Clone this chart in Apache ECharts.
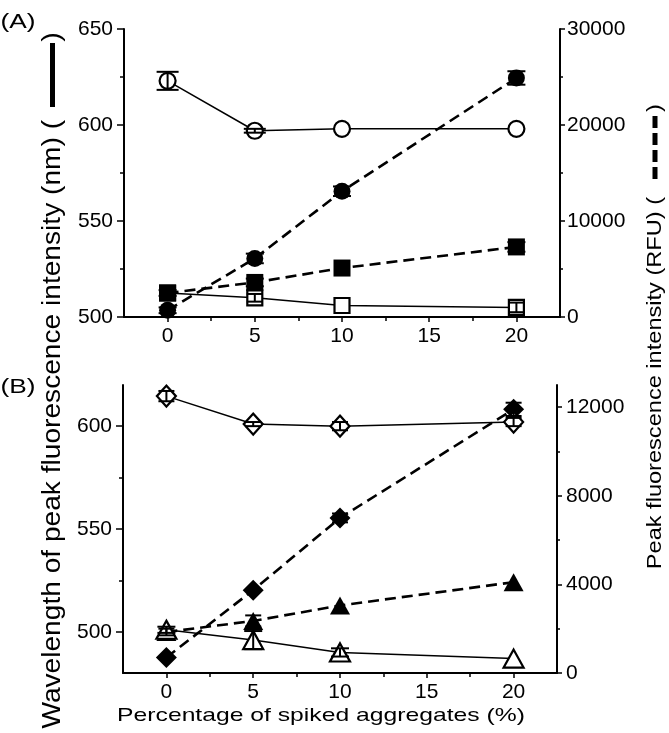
<!DOCTYPE html>
<html>
<head>
<meta charset="utf-8">
<script src="https://cdn.jsdelivr.net/npm/echarts@6/dist/echarts.min.js"></script>
<style>
html,body{margin:0;padding:0;background:#fff;}
#chart{width:669px;height:733px;}
</style>
</head>
<body>
<div id="chart"></div>
<script>
// ---------- data ----------
const xValues = [0, 5, 10, 20];

// Panel A
const aOpenCircleNm = [623, 597, 598, 598];
const aOpenCircleErr = [4.7, 1, 0, 0];
const aOpenSquareNm = [512.5, 510, 506, 505];
const aOpenSquareErr = [1.5, 2, 0, 2.5];
const aFilledCircleRfu = [700, 6100, 13100, 24900];
const aFilledCircleErr = [300, 500, 500, 700];
const aFilledSquareRfu = [2500, 3600, 5100, 7300];
const aFilledSquareErr = [300, 400, 0, 500];

// Panel B
const bOpenDiamondNm = [614.6, 601, 600, 602];
const bOpenDiamondErr = [2.5, 1, 2, 2];
const bOpenTriangleNm = [501, 496, 490, 487];
const bOpenTriangleErr = [1.5, 4.4, 2, 0];
const bFilledDiamondRfu = [700, 3740, 7000, 11900];
const bFilledDiamondErr = [0, 0, 200, 300];
const bFilledTriangleRfu = [1850, 2350, 3050, 4100];
const bFilledTriangleErr = [150, 250, 0, 0];

// Tick values
const xMajorTicks = [0, 5, 10, 15, 20];
const xMinorTicks = [2.5, 7.5, 12.5, 17.5];
const aLeftMajor = [500, 550, 600, 650];
const aLeftMinor = [525, 575, 625];
const aRightMajor = [0, 10000, 20000, 30000];
const aRightMinor = [5000, 15000, 25000];
const bLeftMajor = [500, 550, 600];
const bLeftMinor = [525, 575];
const bRightMajor = [0, 4000, 8000, 12000];
const bRightMinor = [2000, 6000, 10000];

// ---------- chart ----------
const FF = '"Liberation Sans", Arial, Helvetica, sans-serif';
const chart = echarts.init(document.getElementById('chart'), null, {renderer: 'canvas'});
const plain = v => String(v);

function xAxisPair(gridIndex) {
  return [
    {
      type: 'value', gridIndex, position: 'bottom', min: -2.5, max: 22.5,
      axisLine: {show: true, onZero: false, lineStyle: {color: '#000', width: 2}},
      axisTick: {show: true, inside: false, length: 5, customValues: xMajorTicks, lineStyle: {color: '#000', width: 1.5}},
      axisLabel: {show: true, customValues: xMajorTicks, formatter: plain, fontSize: 21, fontFamily: FF, color: '#000', margin: 9},
      splitLine: {show: false}
    },
    {
      type: 'value', gridIndex, position: 'bottom', min: -2.5, max: 22.5,
      axisLine: {show: false, onZero: false},
      axisTick: {show: true, inside: false, length: 4, customValues: xMinorTicks, lineStyle: {color: '#000', width: 1.5}},
      axisLabel: {show: false},
      splitLine: {show: false}
    }
  ];
}

function yAxisPair(gridIndex, position, min, max, major, minor, majorLen, minorLen, margin) {
  return [
    {
      type: 'value', gridIndex, position, min, max,
      axisLine: {show: true, onZero: false, lineStyle: {color: '#000', width: 2}},
      axisTick: {show: true, inside: false, length: majorLen, customValues: major, lineStyle: {color: '#000', width: 1.5}},
      axisLabel: {show: true, customValues: major, formatter: plain, fontSize: 21, fontFamily: FF, color: '#000', margin},
      splitLine: {show: false}
    },
    {
      type: 'value', gridIndex, position, min, max,
      axisLine: {show: false, onZero: false},
      axisTick: {show: true, inside: false, length: minorLen, customValues: minor, lineStyle: {color: '#000', width: 1.5}},
      axisLabel: {show: false},
      splitLine: {show: false}
    }
  ];
}

const xAxes = [...xAxisPair(0), ...xAxisPair(1)];
const yAxes = [
  ...yAxisPair(0, 'left', 500, 650, aLeftMajor, aLeftMinor, 7, 4, 11),   // 0,1
  ...yAxisPair(0, 'right', 0, 30000, aRightMajor, aRightMinor, 5, 3, 7), // 2,3
  ...yAxisPair(1, 'left', 480, 620, bLeftMajor, bLeftMinor, 7, 4, 11),   // 4,5
  ...yAxisPair(1, 'right', 0, 13000, bRightMajor, bRightMinor, 5, 3, 9)  // 6,7
];

function lineSeries(ys, xAxisIndex, yAxisIndex, symbol, size, filled, dashed, z) {
  return {
    type: 'line', xAxisIndex, yAxisIndex, z,
    data: xValues.map((x, i) => [x, ys[i]]),
    symbol, symbolSize: size, showSymbol: true, clip: false,
    itemStyle: {color: filled ? '#000' : '#fff', borderColor: '#000', borderWidth: filled ? 0 : 2.2},
    lineStyle: {color: '#000', width: dashed ? 2.6 : 1.5, type: dashed ? [11, 6] : 'solid'},
    emphasis: {disabled: true},
    animation: false
  };
}

function errSeries(ys, errs, xAxisIndex, yAxisIndex, cap, z) {
  const data = xValues.map((x, i) => [x, ys[i], errs[i]]).filter(d => d[2] > 0);
  return {
    type: 'custom', xAxisIndex, yAxisIndex, z, clip: false,
    data, encode: {x: 0, y: 1},
    animation: false,
    renderItem(params, api) {
      const x = api.value(0), y = api.value(1), e = api.value(2);
      const p1 = api.coord([x, y - e]);
      const p2 = api.coord([x, y + e]);
      const st = {stroke: '#000', lineWidth: 2};
      return {
        type: 'group',
        children: [
          {type: 'line', shape: {x1: p1[0], y1: p1[1], x2: p2[0], y2: p2[1]}, style: st},
          {type: 'line', shape: {x1: p1[0] - cap / 2, y1: p1[1], x2: p1[0] + cap / 2, y2: p1[1]}, style: st},
          {type: 'line', shape: {x1: p2[0] - cap / 2, y1: p2[1], x2: p2[0] + cap / 2, y2: p2[1]}, style: st}
        ]
      };
    }
  };
}

const series = [
  // Panel A
  lineSeries(aOpenCircleNm, 0, 0, 'circle', 16, false, false, 2),
  lineSeries(aOpenSquareNm, 0, 0, 'rect', 15, false, false, 2),
  lineSeries(aFilledCircleRfu, 0, 2, 'circle', 17, true, true, 3),
  lineSeries(aFilledSquareRfu, 0, 2, 'rect', 17, true, true, 3),
  errSeries(aOpenCircleNm, aOpenCircleErr, 0, 0, 22, 4),
  errSeries(aOpenSquareNm, aOpenSquareErr, 0, 0, 16, 4),
  errSeries(aFilledCircleRfu, aFilledCircleErr, 0, 2, 18, 4),
  errSeries(aFilledSquareRfu, aFilledSquareErr, 0, 2, 18, 4),
  // Panel B
  lineSeries(bFilledDiamondRfu, 2, 6, 'diamond', [21, 21], true, true, 2),
  lineSeries(bFilledTriangleRfu, 2, 6, 'triangle', [20, 18], true, true, 2),
  lineSeries(bOpenDiamondNm, 2, 4, 'diamond', [19, 21], false, false, 3),
  lineSeries(bOpenTriangleNm, 2, 4, 'triangle', [20, 18], false, false, 3),
  errSeries(bOpenDiamondNm, bOpenDiamondErr, 2, 4, 16, 4),
  errSeries(bOpenTriangleNm, bOpenTriangleErr, 2, 4, 18, 4),
  errSeries(bFilledDiamondRfu, bFilledDiamondErr, 2, 6, 16, 4),
  errSeries(bFilledTriangleRfu, bFilledTriangleErr, 2, 6, 16, 4)
];

const txt = (text, x, y, size, opts) => Object.assign({
  type: 'text', x, y,
  style: {text, fontSize: size, fontFamily: FF, fill: '#000', align: 'center', verticalAlign: 'middle'}
}, opts || {});

const graphic = [
  txt('(A)', 18, 22, 21, {scaleX: 1.25}),
  txt('(B)', 18, 387, 21, {scaleX: 1.25}),
  // left title
  {type: 'group', x: 53, y: 120, rotation: Math.PI / 2, children: [
    {type: 'text', x: 0, y: 0, scaleX: 1.125,
     style: {text: 'Wavelength of peak fluorescence intensity (nm) (', fontSize: 25, fontFamily: FF, fill: '#000', align: 'right', verticalAlign: 'middle'}}
  ]},
  {type: 'group', x: 53, y: 37, rotation: Math.PI / 2, children: [
    {type: 'text', x: 0, y: 0, scaleX: 1.125,
     style: {text: ')', fontSize: 25, fontFamily: FF, fill: '#000', align: 'center', verticalAlign: 'middle'}}
  ]},
  {type: 'rect', shape: {x: 50, y: 43, width: 5, height: 64}, style: {fill: '#000'}},
  // right title
  {type: 'group', x: 655, y: 197, rotation: Math.PI / 2, children: [
    {type: 'text', x: 0, y: 0, scaleX: 1.123,
     style: {text: 'Peak fluorescence intensity (RFU) (', fontSize: 21, fontFamily: FF, fill: '#000', align: 'right', verticalAlign: 'middle'}}
  ]},
  {type: 'group', x: 655, y: 108, rotation: Math.PI / 2, children: [
    {type: 'text', x: 0, y: 0, scaleX: 1.123,
     style: {text: ')', fontSize: 21, fontFamily: FF, fill: '#000', align: 'center', verticalAlign: 'middle'}}
  ]},
  {type: 'line', shape: {x1: 655, y1: 116, x2: 655, y2: 184}, style: {stroke: '#000', lineWidth: 5, lineDash: [12, 5]}},
  // bottom title
  txt('Percentage of spiked aggregates (%)', 321, 716, 19, {scaleX: 1.30})
];

chart.setOption({
  animation: false,
  backgroundColor: '#fff',
  grid: [
    {left: 124, top: 29, width: 436, height: 288},
    {left: 123, top: 385, width: 434, height: 288}
  ],
  xAxis: xAxes,
  yAxis: yAxes,
  series,
  graphic
});
</script>
</body>
</html>
